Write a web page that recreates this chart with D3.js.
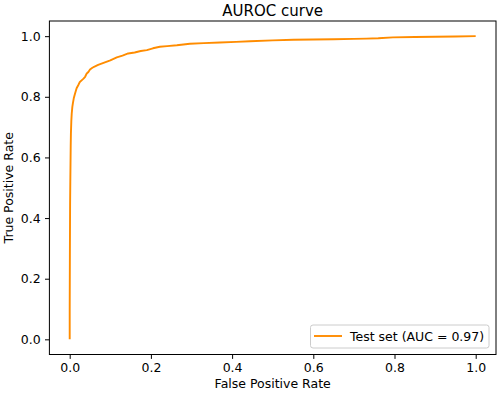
<!DOCTYPE html>
<html>
<head>
<meta charset="utf-8">
<script src="https://cdn.jsdelivr.net/npm/d3@7"></script>
<style>
  body { margin: 0; background: #fff; }
  svg { font-family: "DejaVu Sans", sans-serif; }
</style>
</head>
<body>
<div id="chart"></div>
<script>
/* ROC curve for the test set */

const fpr = [0, 0, 0.0005, 0.001, 0.0015, 0.002, 0.0025, 0.003, 0.004, 0.005,
    0.0065, 0.008, 0.01, 0.013, 0.017, 0.021, 0.025, 0.03, 0.034, 0.038,
    0.042, 0.046, 0.05, 0.055, 0.06, 0.07, 0.08, 0.09, 0.1, 0.116,
    0.13, 0.144, 0.16, 0.175, 0.19, 0.205, 0.222, 0.24, 0.264, 0.296,
    0.33, 0.37, 0.41, 0.444, 0.5, 0.551, 0.6, 0.65, 0.7, 0.731,
    0.76, 0.796, 0.85, 0.9, 0.95, 1.0];
const tpr = [0, 0.1, 0.3, 0.45, 0.52, 0.58, 0.64, 0.68, 0.72, 0.745,
    0.767, 0.78, 0.795, 0.81, 0.828, 0.838, 0.849, 0.855, 0.86, 0.866,
    0.877, 0.882, 0.89, 0.895, 0.899, 0.905, 0.91, 0.915, 0.92, 0.93,
    0.936, 0.943, 0.946, 0.951, 0.954, 0.96, 0.965, 0.967, 0.97, 0.975,
    0.977, 0.979, 0.981, 0.983, 0.986, 0.988, 0.989, 0.99, 0.991, 0.992,
    0.993, 0.996, 0.997, 0.998, 0.999, 1.0];
const ticks = [0, 0.2, 0.4, 0.6, 0.8, 1.0];
const legendLabel = "Test set (AUC = 0.97)";

const data = fpr.map((f, i) => ({x: f, y: tpr[i]}));

const width = 500,
    height = 394,
    margin = ({top: 21, right: 4, bottom: 39.5, left: 49.4});

let svg = d3.select("#chart")
    .append("svg")
    .attr("width", width)
    .attr("height", height)
    .attr("viewBox", [0, 0, width, height]);

/* matplotlib pads the limits by 5% */
const x = d3.scaleLinear()
    .domain([-0.05, 1.05])
    .range([margin.left, width - margin.right]);

const y = d3.scaleLinear()
    .domain([-0.05, 1.05])
    .range([height - margin.bottom, margin.top]);

const xAxis = g => g
    .attr("transform", `translate(0,${height - margin.bottom})`)
    .call(d3.axisBottom(x).tickValues(ticks).tickFormat(d3.format(".1f"))
        .tickSizeOuter(0).tickSize(4.4).tickPadding(4.4));

const yAxis = g => g
    .attr("transform", `translate(${margin.left},0)`)
    .call(d3.axisLeft(y).tickValues(ticks).tickFormat(d3.format(".1f"))
        .tickSizeOuter(0).tickSize(4.4).tickPadding(4.4));

svg.append("g").call(xAxis);
svg.append("g").call(yAxis);

svg.selectAll(".tick text")
    .attr("font-size", 12.5)
    .attr("fill", "#000")
    .attr("font-family", "DejaVu Sans");
svg.selectAll(".tick line").attr("stroke", "#000").attr("stroke-width", 1);
svg.selectAll(".domain").remove();

/* the line */
const line = d3.line()
    .x(d => x(d.x))
    .y(d => y(d.y));

svg.append("path")
    .datum(data)
    .attr("fill", "none")
    .attr("stroke", "darkorange")
    .attr("stroke-width", 1.9)
    .attr("stroke-linejoin", "round")
    .attr("d", line);

/* frame */
svg.append("rect")
    .attr("x", margin.left)
    .attr("y", margin.top)
    .attr("width", width - margin.right - margin.left)
    .attr("height", height - margin.bottom - margin.top)
    .attr("fill", "none")
    .attr("stroke", "#000")
    .attr("stroke-width", 1);

/* title and axis labels */
svg.append("text")
    .text("AUROC curve")
    .attr("x", (margin.left + width - margin.right) / 2)
    .attr("y", 16)
    .attr("text-anchor", "middle")
    .attr("font-size", 15);

svg.append("text")
    .text("False Positive Rate")
    .attr("x", (margin.left + width - margin.right) / 2)
    .attr("y", 388)
    .attr("text-anchor", "middle")
    .attr("font-size", 12.5);

svg.append("text")
    .text("True Positive Rate")
    .attr("transform", `translate(13,${(margin.top + height - margin.bottom) / 2}) rotate(-90)`)
    .attr("text-anchor", "middle")
    .attr("font-size", 12.5);

/* legend */
let legend = svg.append("g")
    .attr("transform", "translate(310.5,325)");

legend.append("rect")
    .attr("width", 178.5)
    .attr("height", 23)
    .attr("rx", 2.5)
    .attr("fill", "#fff")
    .attr("fill-opacity", 0.8)
    .attr("stroke", "#ccc")
    .attr("stroke-width", 1);

legend.append("line")
    .attr("x1", 3.5)
    .attr("x2", 31.5)
    .attr("y1", 11)
    .attr("y2", 11)
    .attr("stroke", "darkorange")
    .attr("stroke-width", 1.9);

legend.append("text")
    .text(legendLabel)
    .attr("x", 39.5)
    .attr("y", 15.5)
    .attr("font-size", 12.5);
</script>
</body>
</html>
